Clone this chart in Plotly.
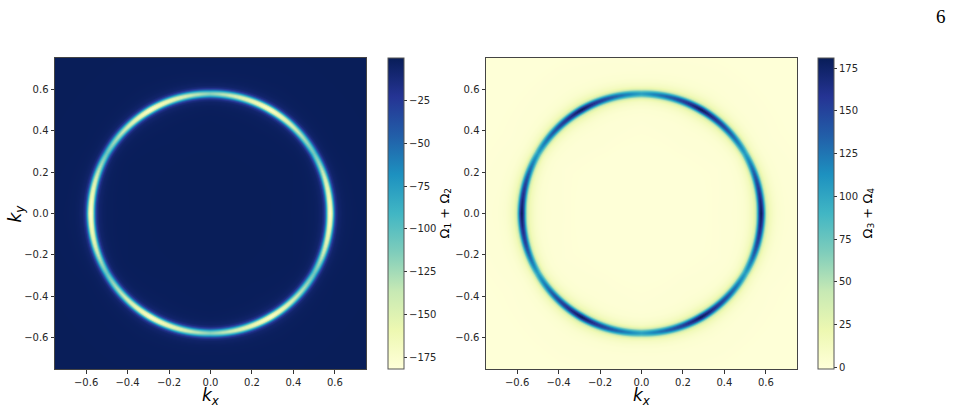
import numpy as np
import plotly.graph_objects as go

# ---- data ----
K_RANGE = [-0.75, 0.75]
RING_RADIUS = 0.577
TICK_VALS = [-0.6, -0.4, -0.2, 0.0, 0.2, 0.4, 0.6]
TICK_TEXT = ["\u22120.6", "\u22120.4", "\u22120.2", "0.0", "0.2", "0.4", "0.6"]

# angular profile of the ring peak magnitude (degrees from +kx axis)
ANGLES = [0, 15, 30, 45, 60, 75, 90, 105, 120, 135, 150, 165, 180,
          195, 210, 225, 240, 255, 270, 285, 300, 315, 330, 345, 360]
PEAK_12 = [181, 150, 108, 140, 176, 150, 118, 150, 176, 140, 108, 150, 181,
           150, 108, 140, 176, 150, 118, 150, 176, 140, 108, 150, 181]
PEAK_34 = [181, 150, 108, 145, 180, 140, 105, 140, 180, 145, 108, 150, 181,
           150, 108, 145, 180, 140, 105, 140, 180, 145, 108, 150, 181]

# radial profile across the ring (offset from ring radius -> relative weight)
DR = [-0.30, -0.12, -0.08, -0.06, -0.04, -0.03, -0.025, -0.02, -0.015, -0.01, -0.005, 0.0,
      0.005, 0.01, 0.015, 0.02, 0.025, 0.03, 0.04, 0.06, 0.08, 0.12, 0.30]
PROF_12 = [0.0, 0.004, 0.008, 0.016, 0.04, 0.10, 0.19, 0.34, 0.55, 0.77, 0.93, 1.0,
           0.93, 0.77, 0.55, 0.34, 0.19, 0.10, 0.04, 0.016, 0.008, 0.004, 0.0]
PROF_34 = [0.0, 0.01, 0.025, 0.05, 0.10, 0.17, 0.26, 0.40, 0.60, 0.80, 0.94, 1.0,
           0.94, 0.80, 0.60, 0.40, 0.26, 0.17, 0.10, 0.05, 0.025, 0.01, 0.0]

CB12_TICKS = [-175, -150, -125, -100, -75, -50, -25]
CB34_TICKS = [0, 25, 50, 75, 100, 125, 150, 175]
RANGE_12 = [-181.5, -0.5]
RANGE_34 = [-1.0, 181.0]

YLGNBU = [[0.0, "#ffffd9"], [0.125, "#edf8b1"], [0.25, "#c7e9b4"], [0.375, "#7fcdbb"],
          [0.5, "#41b6c4"], [0.625, "#1d91c0"], [0.75, "#225ea8"], [0.875, "#253494"],
          [1.0, "#081d58"]]

# ---- build the fields from the tables ----
N = 311
d = (K_RANGE[1] - K_RANGE[0]) / N
k = np.linspace(K_RANGE[0] + d / 2, K_RANGE[1] - d / 2, N)
KX, KY = np.meshgrid(k, k)
R = np.hypot(KX, KY)
TH = np.degrees(np.arctan2(KY, KX)) % 360
dr = R - RING_RADIUS

Z12 = -np.interp(TH, ANGLES, PEAK_12) * np.interp(dr, DR, PROF_12) - 1.0
Z34 = np.interp(TH, ANGLES, PEAK_34) * np.interp(dr, DR, PROF_34)

# ---- layout geometry (pixels) ----
W, H = 953, 408
px = lambda v: v / W
py = lambda v: (H - v) / H
y0, y1 = py(369), py(58)
ymid = (y0 + y1) / 2

tickfont = dict(family="DejaVu Sans", size=10, color="#262626")

def cbar(xpix, ticks):
    return dict(x=px(xpix), xanchor="left", y=ymid, yanchor="middle",
                len=311, lenmode="pixels", thickness=16, thicknessmode="pixels",
                outlinewidth=1, outlinecolor="#555", tickvals=ticks,
                ticktext=[str(t).replace("-", "\u2212") for t in ticks],
                ticks="outside", ticklen=3, tickcolor="#333", tickfont=tickfont,
                xpad=0, ypad=0)

fig = go.Figure()
fig.add_trace(go.Heatmap(x=k, y=k, z=Z12, colorscale=YLGNBU, zmin=RANGE_12[0], zmax=RANGE_12[1],
                         colorbar=cbar(388, CB12_TICKS), xaxis="x", yaxis="y", hoverinfo="skip"))
fig.add_trace(go.Heatmap(x=k, y=k, z=Z34, colorscale=YLGNBU, zmin=RANGE_34[0], zmax=RANGE_34[1],
                         colorbar=cbar(818, CB34_TICKS), xaxis="x2", yaxis="y2", hoverinfo="skip"))

ax = dict(range=K_RANGE, tickvals=TICK_VALS, ticktext=TICK_TEXT, ticks="outside", ticklen=3.5,
          tickcolor="#333", tickfont=tickfont, showgrid=False, zeroline=False,
          showline=True, linecolor="#444", linewidth=1, mirror=True)

fig.update_layout(
    width=W, height=H, margin=dict(l=0, r=0, t=0, b=0),
    paper_bgcolor="white", plot_bgcolor="white", showlegend=False,
    xaxis=dict(ax, domain=[px(55), px(366)], anchor="y"),
    yaxis=dict(ax, domain=[y0, y1], anchor="x"),
    xaxis2=dict(ax, domain=[px(486), px(797)], anchor="y2"),
    yaxis2=dict(ax, domain=[y0, y1], anchor="x2"),
)

lab = dict(family="DejaVu Sans", size=17, color="black")
ann = [
    dict(text="<i>k</i><sub><i>x</i></sub>", x=px(210.5), y=py(396), xref="paper", yref="paper",
         showarrow=False, font=lab, xanchor="center", yanchor="middle"),
    dict(text="<i>k</i><sub><i>x</i></sub>", x=px(641.5), y=py(396), xref="paper", yref="paper",
         showarrow=False, font=lab, xanchor="center", yanchor="middle"),
    dict(text="<i>k</i><sub><i>y</i></sub>", x=px(16), y=py(213.5), xref="paper", yref="paper",
         showarrow=False, font=lab, textangle=-90, xanchor="center", yanchor="middle"),
    dict(text="\u03a9<sub>1</sub> + \u03a9<sub>2</sub>", x=px(445), y=py(213.5), xref="paper", yref="paper",
         showarrow=False, font=dict(family="DejaVu Sans", size=13, color="black"), textangle=-90,
         xanchor="center", yanchor="middle"),
    dict(text="\u03a9<sub>3</sub> + \u03a9<sub>4</sub>", x=px(868), y=py(213.5), xref="paper", yref="paper",
         showarrow=False, font=dict(family="DejaVu Sans", size=13, color="black"), textangle=-90,
         xanchor="center", yanchor="middle"),
    dict(text="6", x=px(941), y=py(17), xref="paper", yref="paper", showarrow=False,
         font=dict(family="Liberation Serif", size=19, color="black"), xanchor="center", yanchor="middle"),
]
fig.update_layout(annotations=ann)

fig.write_html("out.html")
